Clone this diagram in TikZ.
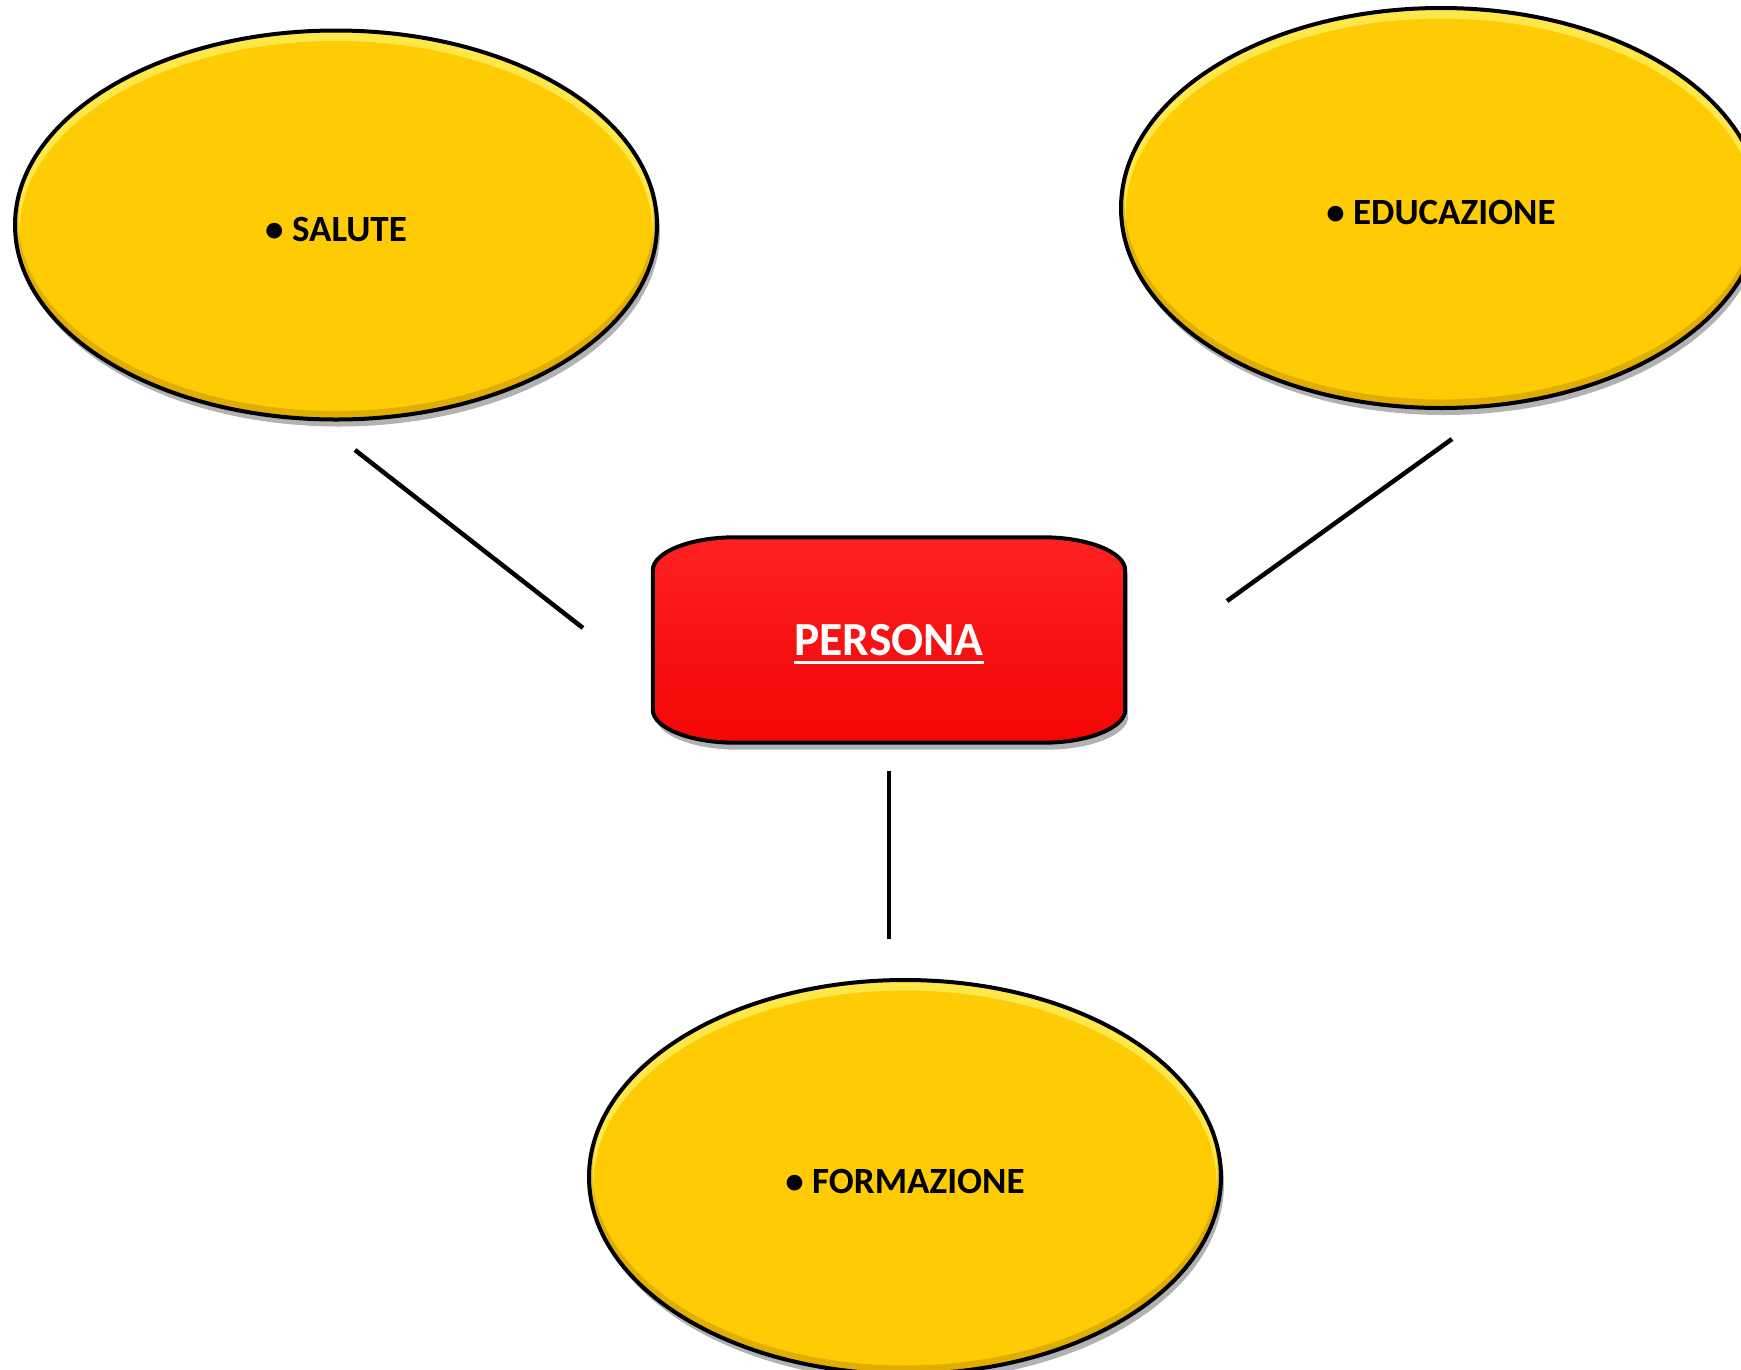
\documentclass[tikz,border=0pt]{standalone}
\usepackage{fontspec}
\setmainfont{Carlito}
\usetikzlibrary{shapes.geometric,shadows,calc,backgrounds}
\definecolor{ovalyellow}{RGB}{254,203,5}
\definecolor{ovalhi}{RGB}{255,238,90}
\definecolor{ovaldark}{RGB}{170,120,0}
\definecolor{boxred}{RGB}{246,6,6}
\definecolor{boxredtop}{RGB}{255,34,34}
\tikzset{
  oval/.style={shape=ellipse, draw=black, line width=4pt, fill=ovalyellow,
    inner sep=0pt, text height=32pt, text depth=0pt,
    font=\bfseries\fontsize{37}{40}\selectfont,
    drop shadow={shadow xshift=3pt, shadow yshift=-7pt, opacity=0.3, fill=black},
    path picture={
      \path let \p1=(path picture bounding box.south west),
                \p2=(path picture bounding box.north east) in
        [draw=ovalhi, line width=9pt, opacity=0.8]
        ([yshift=-6pt]path picture bounding box.center)
          ellipse [x radius={(\x2-\x1)/2}, y radius={(\y2-\y1)/2}];
      \path let \p1=(path picture bounding box.south west),
                \p2=(path picture bounding box.north east) in
        [draw=ovaldark, line width=7pt, opacity=0.35]
        ([yshift=5pt]path picture bounding box.center)
          ellipse [x radius={(\x2-\x1)/2}, y radius={(\y2-\y1)/2}];
    }},
  centerbox/.style={shape=rectangle, text=white,
    minimum width=472pt, minimum height=205pt, inner sep=0pt,
    text height=39pt, text depth=8.3pt,
    font=\bfseries\fontsize{47.5}{50}\selectfont},
  boxoutline/.style={draw=black, line width=4pt,
    top color=boxredtop, bottom color=boxred, middle color=boxred!95!white,
    drop shadow={shadow xshift=3pt, shadow yshift=-7pt, opacity=0.3, fill=black}},
  connector/.style={draw=black, line width=4.5pt}
}
\begin{document}
\begin{tikzpicture}[x=1pt,y=-1pt]
  \useasboundingbox (0,0) rectangle (1741,1369);
  \clip (0,0) rectangle (1741,1369);

  \node[oval, minimum width=642pt, minimum height=389pt] (salute) at (336,225) {• SALUTE};
  \node[oval, minimum width=640pt, minimum height=400pt] (educ) at (1441,208) {• EDUCAZIONE};
  \node[oval, minimum width=632pt, minimum height=394pt] (form) at (905,1177) {• FORMAZIONE};

  \node[centerbox] (pers) at (889,640) {\vtop{\hbox{PERSONA}\kern5pt\hrule height 3.3pt}};
  \begin{pgfonlayer}{background}
    \fill[white] (0,0) rectangle (1741,1369);
    \path[boxoutline]
      ([xshift=82pt]pers.north west) -- ([xshift=-82pt]pers.north east)
      .. controls ([xshift=-37pt]pers.north east) and ([yshift=-15pt]pers.north east) ..
      ([yshift=-33pt]pers.north east)
      -- ([yshift=33pt]pers.south east)
      .. controls ([yshift=15pt]pers.south east) and ([xshift=-37pt]pers.south east) ..
      ([xshift=-82pt]pers.south east)
      -- ([xshift=82pt]pers.south west)
      .. controls ([xshift=37pt]pers.south west) and ([yshift=15pt]pers.south west) ..
      ([yshift=33pt]pers.south west)
      -- ([yshift=-33pt]pers.north west)
      .. controls ([yshift=-15pt]pers.north west) and ([xshift=37pt]pers.north west) ..
      cycle;
  \end{pgfonlayer}

  \coordinate (s1) at (355,450);  \coordinate (s2) at (583,628);
  \coordinate (e1) at (1227,601); \coordinate (e2) at (1452,439);
  \coordinate (f1) at (889,771);  \coordinate (f2) at (889,939);
  \draw[connector] (s1) -- (s2);
  \draw[connector] (e1) -- (e2);
  \draw[connector] (f1) -- (f2);
\end{tikzpicture}
\end{document}
